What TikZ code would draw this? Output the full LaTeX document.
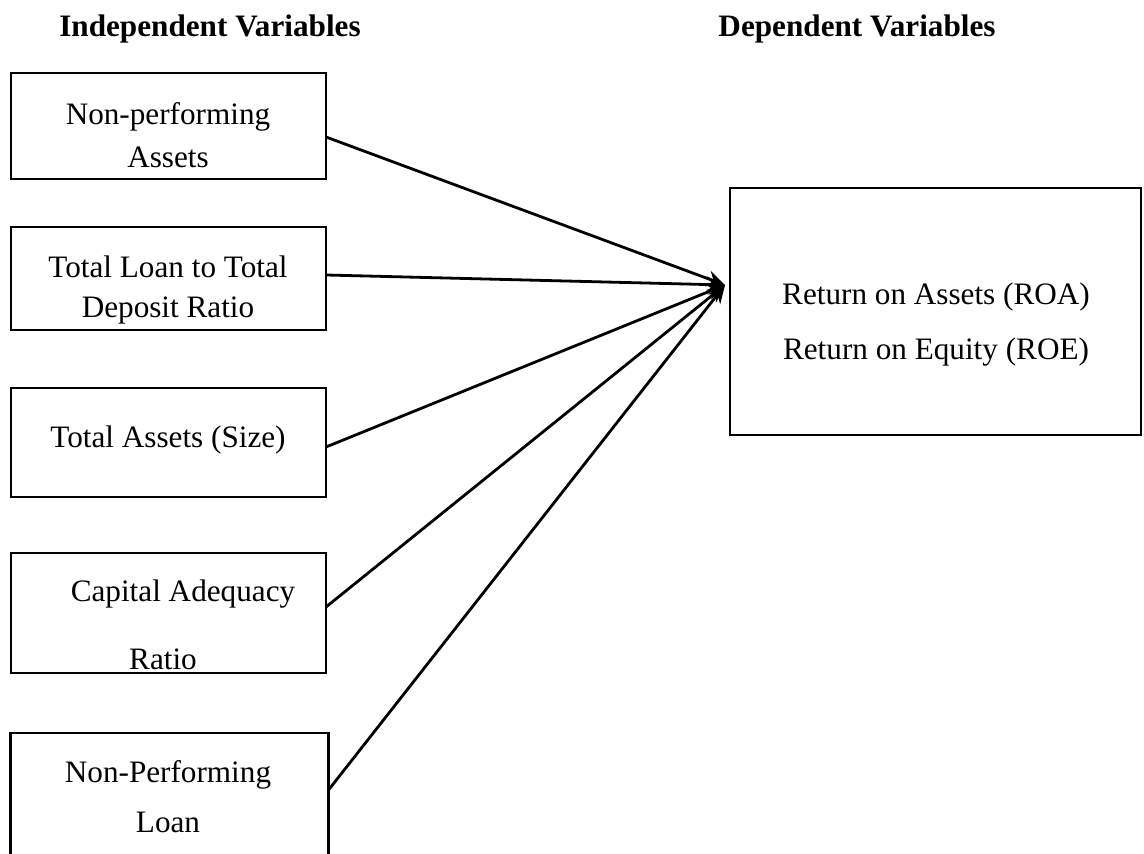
\documentclass[tikz,border=0pt]{standalone}
\usepackage{fontspec}
\setmainfont{Liberation Serif}
\usetikzlibrary{arrows.meta}
\begin{document}
\begin{tikzpicture}[x=0.5pt,y=-0.5pt,
  box/.style={draw,line width=1.25pt,inner sep=0pt,outer sep=0pt},
  lbl/.style={inner sep=0pt,font=\fontsize{15.6}{18}\selectfont},
  head/.style={inner sep=0pt,font=\fontsize{15.6}{18}\selectfont\bfseries},
  conn/.style={line width=1.4pt,-{Stealth[length=9pt,width=8pt]}}]
\useasboundingbox (0,0) rectangle (1144,854);
\clip (0,0) rectangle (1144,854);
% headers
\node[head] (h1) at (210,29) {Independent Variables};
\node[head] (h2) at (857,29) {Dependent Variables};
% boxes
\node[box,minimum width=157.5pt,minimum height=53pt] (b1) at (168.5,126) {};
\node[box,minimum width=157.5pt,minimum height=51.5pt] (b2) at (168.5,278.5) {};
\node[box,minimum width=157.5pt,minimum height=54.5pt] (b3) at (168.5,442.5) {};
\node[box,minimum width=157.5pt,minimum height=60pt] (b4) at (168.5,613) {};
\node[box,minimum width=159pt,minimum height=83.5pt] (b5) at (169.5,816.5) {};
\node[box,minimum width=205.5pt,minimum height=123.5pt] (r) at (935.5,311.5) {};
% texts
\node[lbl] (t1a) at (168,117) {Non-performing};
\node[lbl] (t1b) at (168,157) {Assets};
\node[lbl] (t2a) at (168,267) {Total Loan to Total};
\node[lbl] (t2b) at (168,310) {Deposit Ratio};
\node[lbl] (t3) at (168,440) {Total Assets (Size)};
\node[lbl] (t4a) at (183,594) {Capital Adequacy};
\node[lbl] (t4b) at (163,659) {Ratio};
\node[lbl] (t5a) at (168,775) {Non-Performing};
\node[lbl] (t5b) at (168,822) {Loan};
\node[lbl] (ra) at (936,297) {Return on Assets (ROA)};
\node[lbl] (rb) at (936,352) {Return on Equity (ROE)};
% connectors
\coordinate (t) at (725,285);
\draw[conn] ([yshift=-5.5pt]b1.east) -- (t);
\draw[conn] ([yshift=1.75pt]b2.east) -- (t);
\draw[conn] ([yshift=-2.25pt]b3.east) -- (t);
\draw[conn] ([yshift=3pt]b4.east) -- (t);
\draw[conn] ([yshift=13.25pt]b5.east) -- (t);
\end{tikzpicture}
\end{document}
